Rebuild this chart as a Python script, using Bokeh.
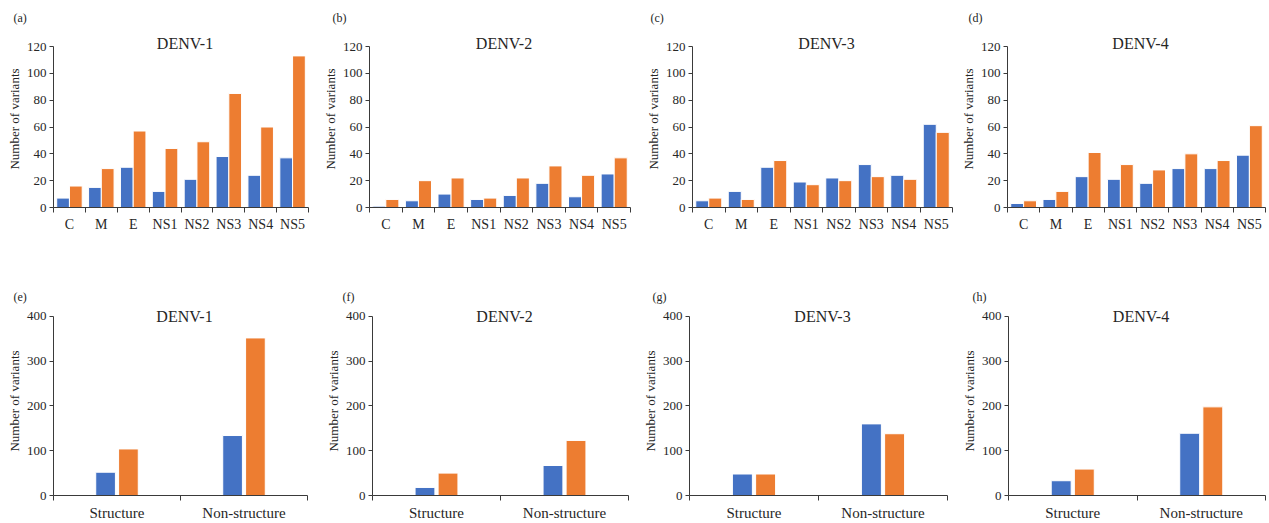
from bokeh.plotting import figure
from bokeh.layouts import column, row
from bokeh.models import FixedTicker, Label, Title, Range1d, ColumnDataSource
from bokeh.embed import file_html
from bokeh.resources import INLINE

# ---------------- data ----------------
genes = ["C", "M", "E", "NS1", "NS2", "NS3", "NS4", "NS5"]
regions = ["Structure", "Non-structure"]
serotypes = ["DENV-1", "DENV-2", "DENV-3", "DENV-4"]
tags_top = ["(a)", "(b)", "(c)", "(d)"]
tags_bottom = ["(e)", "(f)", "(g)", "(h)"]

gene_blue_d1 = [7, 15, 30, 12, 21, 38, 24, 37]
gene_orange_d1 = [16, 29, 57, 44, 49, 85, 60, 113]
gene_blue_d2 = [1, 5, 10, 6, 9, 18, 8, 25]
gene_orange_d2 = [6, 20, 22, 7, 22, 31, 24, 37]
gene_blue_d3 = [5, 12, 30, 19, 22, 32, 24, 62]
gene_orange_d3 = [7, 6, 35, 17, 20, 23, 21, 56]
gene_blue_d4 = [3, 6, 23, 21, 18, 29, 29, 39]
gene_orange_d4 = [5, 12, 41, 32, 28, 40, 35, 61]

region_blue_d1 = [52, 134]
region_orange_d1 = [104, 352]
region_blue_d2 = [18, 67]
region_orange_d2 = [50, 123]
region_blue_d3 = [48, 160]
region_orange_d3 = [48, 138]
region_blue_d4 = [33, 139]
region_orange_d4 = [59, 198]

gene_blue = [gene_blue_d1, gene_blue_d2, gene_blue_d3, gene_blue_d4]
gene_orange = [gene_orange_d1, gene_orange_d2, gene_orange_d3, gene_orange_d4]
region_blue = [region_blue_d1, region_blue_d2, region_blue_d3, region_blue_d4]
region_orange = [region_orange_d1, region_orange_d2, region_orange_d3, region_orange_d4]

# ---------------- style ----------------
BLUE = "#4472C4"
ORANGE = "#ED7D31"
FONT = "Liberation Serif"
AXC = "#3a3a3a"
TXT = "#262626"

widths = [316, 318, 321, 313]
top_left = [53, 53, 58, 52]
top_fw = [255, 261, 260, 258]
bot_left = [53, 56, 55, 53]
bot_fw = [254, 256, 258, 257]
tag_off_top = [-40, -37, -42, -39]
tag_off_bot = [-40, -30, -37, -36]


def panel(cats, blue, orange, ymax, ystep, yend, name, name_dy, tag, w, left,
          fw, h, top, fh, bw, off, tag_off, tag_standoff, xfs):
    n = len(cats)
    centers = [i + 0.5 for i in range(n)]
    p = figure(width=w, height=h, x_range=Range1d(0, n), y_range=Range1d(0, yend),
               output_backend="svg", toolbar_location=None,
               min_border_left=left, min_border_right=w - left - fw,
               min_border_top=top, min_border_bottom=h - top - fh)
    p.outline_line_color = None
    p.xgrid.visible = False
    p.ygrid.visible = False
    p.background_fill_color = "white"
    p.border_fill_color = "white"

    src = ColumnDataSource(dict(xb=[c - off for c in centers],
                                xo=[c + off for c in centers],
                                blue=blue, orange=orange))
    p.vbar(x="xb", top="blue", width=bw, source=src, fill_color=BLUE,
           line_color="white", line_width=1)
    p.vbar(x="xo", top="orange", width=bw, source=src, fill_color=ORANGE,
           line_color="white", line_width=1)

    xa = p.xaxis[0]
    xa.ticker = FixedTicker(ticks=centers, minor_ticks=list(range(n + 1)))
    xa.major_label_overrides = {c: lab for c, lab in zip(centers, cats)}
    xa.major_tick_out = 0
    xa.major_tick_in = 0
    xa.minor_tick_out = 5
    xa.minor_tick_in = 0
    xa.minor_tick_line_color = AXC
    xa.axis_line_color = AXC
    xa.major_label_text_font = FONT
    xa.major_label_text_font_size = xfs
    xa.major_label_text_color = TXT
    xa.major_label_standoff = 4

    ya = p.yaxis[0]
    ya.bounds = (0, ymax)
    ya.ticker = FixedTicker(ticks=list(range(0, ymax + 1, ystep)), minor_ticks=[])
    ya.major_tick_out = 4
    ya.major_tick_in = 0
    ya.major_tick_line_color = AXC
    ya.axis_line_color = AXC
    ya.major_label_text_font = FONT
    ya.major_label_text_font_size = "13px"
    ya.major_label_text_color = TXT
    ya.major_label_standoff = 3
    ya.axis_label = "Number of variants"
    ya.axis_label_text_font = FONT
    ya.axis_label_text_font_size = "13px"
    ya.axis_label_text_font_style = "normal"
    ya.axis_label_text_color = TXT
    ya.axis_label_standoff = 2

    p.add_layout(Label(x=n / 2, y=ymax, text=name, text_align="center",
                       text_baseline="middle", x_offset=4, y_offset=name_dy,
                       text_font=FONT, text_font_size="16px", text_color=TXT),
                 "center")
    p.add_layout(Title(text=tag, align="left", offset=tag_off,
                       standoff=tag_standoff, text_font=FONT,
                       text_font_size="12px", text_font_style="normal",
                       text_color=TXT), "above")
    return p


top_row = []
bot_row = []
for i in range(4):
    # top: 120 at y=46, 0 at y=207 (161 px); frame from y=30
    top_row.append(panel(genes, gene_blue[i], gene_orange[i], 120, 20,
                         120 * 177 / 161, serotypes[i], 3, tags_top[i],
                         widths[i], top_left[i], top_fw[i], 280, 30, 177,
                         0.4, 0.2, tag_off_top[i], 12, "14px"))
    # bottom: 400 at y=316, 0 at y=496 (180 px); frame from y=306
    bot_row.append(panel(regions, region_blue[i], region_orange[i], 400, 100,
                         400 * 190 / 180, serotypes[i], 0, tags_bottom[i],
                         widths[i], bot_left[i], bot_fw[i], 243, 26, 190,
                         0.155, 0.09, tag_off_bot[i], 6, "15px"))

layout = column(row(*top_row), row(*bot_row))
open("out.html", "w").write(file_html(layout, INLINE))
